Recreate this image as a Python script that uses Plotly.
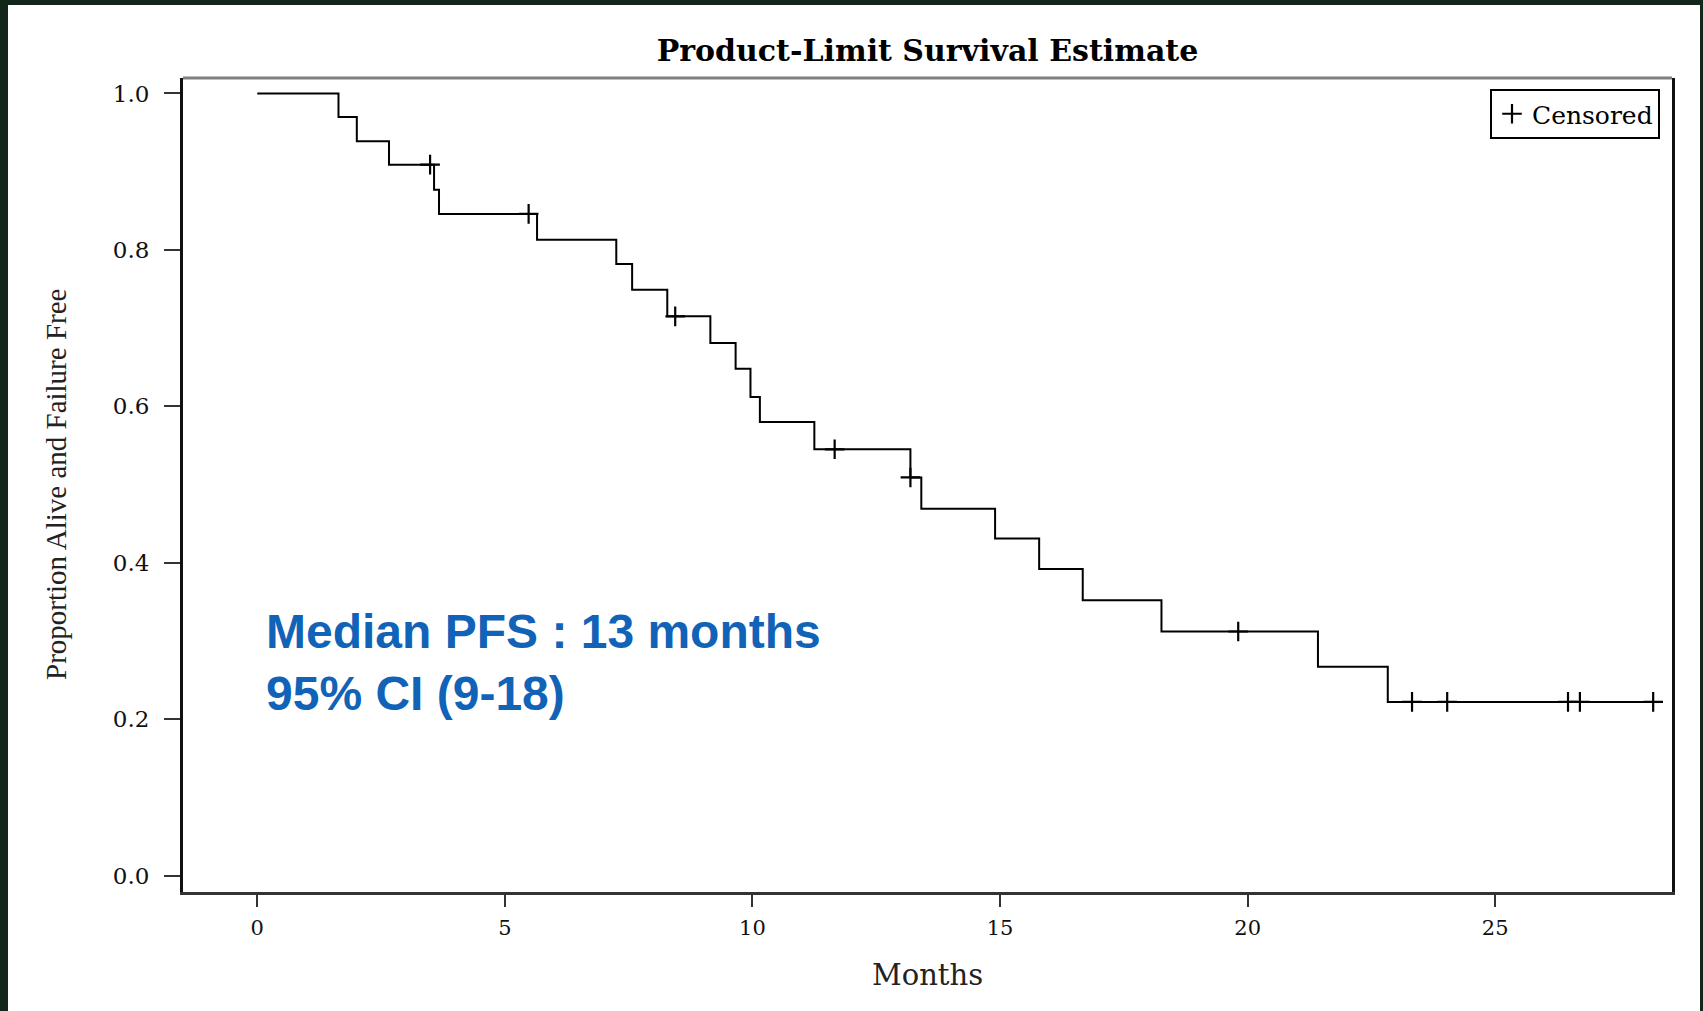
import plotly.graph_objects as go

# ---- data ----
event_times = [0, 1.64, 2.01, 2.66, 3.57, 3.67, 5.65, 7.25, 7.57, 8.28, 9.15, 9.66, 9.96,
               10.15, 11.25, 13.19, 13.41, 14.90, 15.79, 16.67, 18.26, 21.42, 22.83, 28.36]
survival = [1.0, 0.970, 0.939, 0.909, 0.877, 0.846, 0.813, 0.782, 0.749, 0.715, 0.681, 0.648,
            0.612, 0.580, 0.545, 0.509, 0.469, 0.431, 0.392, 0.352, 0.312, 0.267, 0.222, 0.222]
censor_times = [3.49, 5.48, 8.44, 11.66, 13.19, 19.81, 23.32, 24.03, 26.47, 26.71, 28.19]
censor_surv = [0.909, 0.846, 0.715, 0.545, 0.509, 0.312, 0.222, 0.222, 0.222, 0.222, 0.222]
x_ticks = [0, 5, 10, 15, 20, 25]
y_ticks = [0.0, 0.2, 0.4, 0.6, 0.8, 1.0]
y_tick_text = ["0.0", "0.2", "0.4", "0.6", "0.8", "1.0"]

W, H = 1703, 1011
L, R, T, B = 183, 31, 78, 119
PW, PH = W - L - R, H - T - B

def px_x(px):
    return (px - L) / PW

def px_y(py):
    return (H - B - py) / PH

fig = go.Figure()
fig.add_trace(go.Scatter(x=event_times, y=survival, mode="lines", line_shape="hv",
                         line=dict(color="black", width=2), showlegend=False,
                         hoverinfo="skip"))
fig.add_trace(go.Scatter(x=censor_times, y=censor_surv, mode="markers", name="Censored",
                         marker=dict(symbol="cross-thin", size=14,
                                     line=dict(color="black", width=2.2), color="black")))

fig.update_layout(
    width=W, height=H,
    margin=dict(l=L, r=R, t=T, b=B),
    paper_bgcolor="#12261a",
    plot_bgcolor="white",
    title=dict(text="<b>Product-Limit Survival Estimate</b>", x=0.5, xref="paper",
               y=1 - 50 / H, yref="container", yanchor="middle", xanchor="center",
               font=dict(family="DejaVu Serif", size=30, color="black")),
    xaxis=dict(range=[-1.50, 28.57], tickvals=x_ticks, showgrid=False, zeroline=False,
               showline=True, linecolor="#333", linewidth=3, ticks="outside", ticklen=12,
               tickwidth=2, tickcolor="#333", ticklabelstandoff=3,
               tickfont=dict(family="DejaVu Serif", size=21, color="#111")),
    yaxis=dict(range=[-0.0211, 1.0198], tickvals=y_ticks, ticktext=y_tick_text,
               showgrid=False, zeroline=False, showline=True, mirror=True,
               linecolor="#111", linewidth=3, ticks="outside", ticklen=16, tickwidth=2,
               tickcolor="#333", ticklabelstandoff=10,
               tickfont=dict(family="DejaVu Serif", size=23, color="#111")),
    legend=dict(x=px_x(1660), y=px_y(89), xanchor="right", yanchor="top",
                bordercolor="black", borderwidth=2, bgcolor="white",
                font=dict(family="DejaVu Serif", size=25, color="black"),
                itemwidth=30, tracegroupgap=0),
    shapes=[
        dict(type="rect", xref="paper", yref="paper", layer="below",
             x0=px_x(8), x1=px_x(1700), y0=px_y(1011 + 5), y1=px_y(5),
             fillcolor="white", line=dict(width=0)),
        dict(type="line", xref="paper", yref="paper", x0=0, x1=1, y0=1, y1=1,
             line=dict(color="#808080", width=3)),
    ],
    annotations=[
        dict(text="Proportion Alive and Failure Free", textangle=-90, xref="paper",
             yref="paper", x=px_x(56), y=px_y(485), showarrow=False,
             xanchor="center", yanchor="middle",
             font=dict(family="Liberation Serif", size=29, color="#222")),
        dict(text="Months", xref="paper", yref="paper", x=0.5, y=px_y(975),
             showarrow=False, xanchor="center", yanchor="middle",
             font=dict(family="DejaVu Serif", size=29, color="#222")),
        dict(text="<b>Median PFS : 13 months<br>95% CI (9-18)</b>", xref="paper",
             yref="paper", x=px_x(264), y=px_y(662), showarrow=False, align="left",
             xanchor="left", yanchor="middle",
             font=dict(family="Liberation Sans", size=48, color="#1163B8")),
    ],
)

fig.write_html("out.html")
